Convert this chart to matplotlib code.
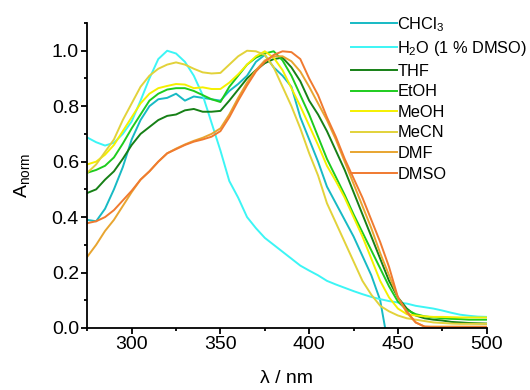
import numpy as np
import matplotlib
matplotlib.use('Agg')
import matplotlib.pyplot as plt
from matplotlib.ticker import MultipleLocator

plt.rcParams['font.family'] = ['Liberation Sans', 'DejaVu Sans']
plt.rcParams['mathtext.fontset'] = 'custom'
plt.rcParams['mathtext.rm'] = 'Liberation Sans'
plt.rcParams['mathtext.it'] = 'Liberation Sans:italic'

# wavelength grid (nm)
wl = np.arange(275, 501, 5)

# normalised absorbance per solvent
chcl3 = [0.39, 0.385, 0.43, 0.50, 0.58, 0.68, 0.75, 0.80, 0.825, 0.83, 0.845, 0.82, 0.835, 0.83, 0.825,
         0.82, 0.855, 0.88, 0.91, 0.96, 0.985, 0.94, 0.91, 0.87, 0.76, 0.68, 0.60, 0.51, 0.45, 0.39,
         0.33, 0.26, 0.19, 0.10, -0.08, -0.1, -0.1, -0.1, -0.1, -0.1, -0.1, -0.1, -0.1, -0.1, -0.1, -0.1]
h2o = [0.687, 0.67, 0.658, 0.668, 0.70, 0.745, 0.82, 0.90, 0.97, 1.0, 0.99, 0.96, 0.91, 0.84, 0.74,
       0.64, 0.53, 0.47, 0.40, 0.36, 0.325, 0.30, 0.275, 0.25, 0.225, 0.207, 0.19, 0.17, 0.157, 0.145,
       0.133, 0.122, 0.112, 0.104, 0.097, 0.092, 0.088, 0.08, 0.075, 0.07, 0.063, 0.055, 0.048, 0.044, 0.041, 0.04]
thf = [0.487, 0.50, 0.535, 0.565, 0.61, 0.66, 0.70, 0.725, 0.75, 0.765, 0.77, 0.785, 0.79, 0.78, 0.78,
       0.783, 0.82, 0.86, 0.90, 0.93, 0.955, 0.97, 0.975, 0.94, 0.89, 0.82, 0.77, 0.71, 0.64, 0.57,
       0.49, 0.41, 0.33, 0.25, 0.17, 0.11, 0.07, 0.045, 0.035, 0.03, 0.027, 0.022, 0.02, 0.018, 0.017, 0.016]
etoh = [0.56, 0.57, 0.585, 0.615, 0.665, 0.72, 0.77, 0.82, 0.845, 0.86, 0.865, 0.865, 0.855, 0.84, 0.825,
        0.815, 0.87, 0.91, 0.95, 0.975, 0.99, 0.998, 0.965, 0.91, 0.84, 0.77, 0.69, 0.61, 0.545, 0.48,
        0.41, 0.345, 0.28, 0.215, 0.15, 0.095, 0.065, 0.05, 0.042, 0.038, 0.035, 0.033, 0.032, 0.03, 0.03, 0.03]
meoh = [0.59, 0.60, 0.625, 0.66, 0.71, 0.76, 0.81, 0.845, 0.865, 0.873, 0.88, 0.878, 0.865, 0.868, 0.862,
        0.862, 0.885, 0.915, 0.95, 0.98, 0.998, 0.975, 0.93, 0.865, 0.80, 0.73, 0.66, 0.585, 0.53, 0.47,
        0.40, 0.33, 0.25, 0.17, 0.11, 0.07, 0.05, 0.045, 0.042, 0.04, 0.04, 0.039, 0.038, 0.038, 0.038, 0.038]
mecn = [0.56, 0.59, 0.635, 0.68, 0.75, 0.81, 0.87, 0.91, 0.935, 0.95, 0.958, 0.95, 0.935, 0.922, 0.918,
        0.92, 0.95, 0.98, 1.0, 0.998, 0.985, 0.94, 0.87, 0.80, 0.72, 0.63, 0.55, 0.45, 0.38, 0.31,
        0.24, 0.17, 0.12, 0.08, 0.06, 0.045, 0.035, 0.03, 0.025, 0.02, 0.018, 0.016, 0.015, 0.015, 0.015, 0.015]
dmf = [0.257, 0.30, 0.35, 0.39, 0.44, 0.49, 0.535, 0.565, 0.60, 0.63, 0.647, 0.662, 0.675, 0.686, 0.70,
       0.72, 0.77, 0.83, 0.885, 0.93, 0.965, 0.98, 0.98, 0.962, 0.925, 0.87, 0.81, 0.75, 0.68, 0.60,
       0.52, 0.44, 0.36, 0.27, 0.19, 0.11, 0.055, 0.02, 0.005, 0.005, 0.005, 0.005, 0.005, 0.005, 0.005, 0.005]
dmso = [0.378, 0.385, 0.40, 0.425, 0.46, 0.495, 0.535, 0.565, 0.60, 0.63, 0.645, 0.66, 0.672, 0.68, 0.69,
        0.71, 0.76, 0.82, 0.875, 0.925, 0.96, 0.985, 0.998, 0.995, 0.97, 0.90, 0.84, 0.76, 0.69, 0.61,
        0.54, 0.47, 0.39, 0.31, 0.22, 0.11, 0.06, 0.02, 0.005, 0.003, 0.003, 0.003, 0.003, 0.003, 0.003, 0.003]

labels = ['CHCl$_3$', 'H$_2$O (1 % DMSO)', 'THF', 'EtOH', 'MeOH', 'MeCN', 'DMF', 'DMSO']
colors = ['#17BAC4', '#3CF5F5', '#168016', '#1ECC1E', '#F5F000', '#E2D23A', '#E8A530', '#F07A30']
series = [chcl3, h2o, thf, etoh, meoh, mecn, dmf, dmso]

fig = plt.figure(figsize=(5.3, 3.9), dpi=100)
ax = fig.add_axes([0.1647, 0.159, 0.7536, 0.782])

for y, lab, c in zip(series, labels, colors):
    ax.plot(wl, y, color=c, lw=1.4, label=lab)

ax.set_xlim(275, 500)
ax.set_ylim(0, 1.1)
ax.xaxis.set_major_locator(MultipleLocator(50))
ax.xaxis.set_minor_locator(MultipleLocator(25))
ax.yaxis.set_minor_locator(MultipleLocator(0.1))
ax.set_yticks(np.arange(0, 1.01, 0.2))
ax.set_yticklabels(['0.0', '0.2', '0.4', '0.6', '0.8', '1.0'])
ax.spines['top'].set_visible(False)
ax.spines['right'].set_visible(False)
for s in ['left', 'bottom']:
    ax.spines[s].set_linewidth(1.3)
ax.tick_params(which='major', direction='out', length=4, width=1.3, labelsize=14, pad=2)
ax.tick_params(which='minor', direction='out', length=2.5, width=1.3)

ax.set_xlabel('λ / nm', fontsize=14, labelpad=12)
ax.set_ylabel('A$_\\mathrm{norm}$', fontsize=14, labelpad=14)

fig.legend(loc='upper left', bbox_to_anchor=(0.663, 0.962), frameon=False, fontsize=11.8,
           handlelength=2.8, handletextpad=0.0, labelspacing=0.34, borderpad=0, borderaxespad=0)

plt.savefig('out.png', dpi=100)
